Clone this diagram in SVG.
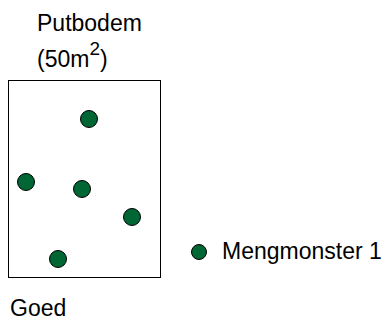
<svg xmlns="http://www.w3.org/2000/svg" width="385" height="320" viewBox="0 0 385 320">
<style>
text{font-family:"Liberation Sans",Arial,sans-serif;font-size:23px;fill:#000}
.dot{fill:#006633;stroke:#000;stroke-width:1}
.box{fill:#fff;stroke:#000;stroke-width:1}
</style>
<rect width="385" height="320" fill="#fff"/>
<g id="title">
<text x="37" y="31">Putbodem</text>
<text x="37" y="67">(50m<tspan dy="-12" font-size="19">2</tspan><tspan dy="12">)</tspan></text>
</g>
<g id="plot">
<rect class="box" x="8.5" y="80.5" width="152" height="197"/>
</g>
<g id="samples">
<circle class="dot" cx="89" cy="119" r="8.5"/>
<circle class="dot" cx="26" cy="182" r="8.5"/>
<circle class="dot" cx="82" cy="189" r="8.5"/>
<circle class="dot" cx="132" cy="217" r="8.5"/>
<circle class="dot" cx="58" cy="259" r="8.5"/>
</g>
<g id="legend">
<circle class="dot" cx="199" cy="252" r="7.5"/>
<text x="222" y="259">Mengmonster 1</text>
</g>
<g id="label">
<text x="10" y="316">Goed</text>
</g>
</svg>
